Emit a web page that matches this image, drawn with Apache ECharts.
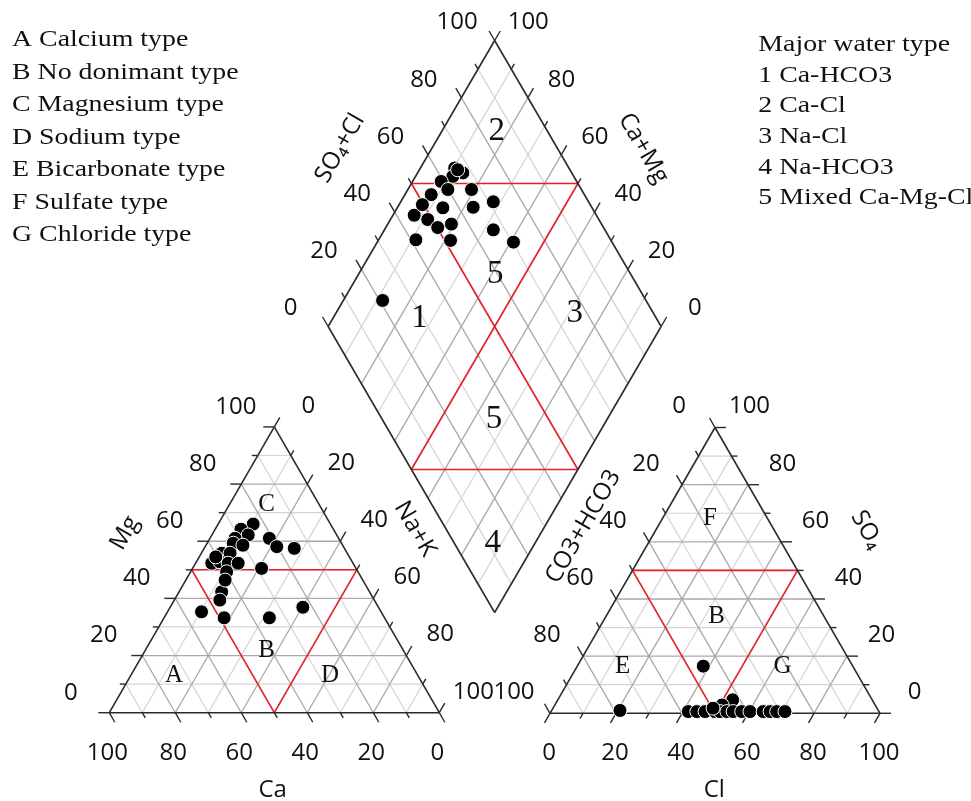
<!DOCTYPE html>
<html><head><meta charset="utf-8">
<script src="https://cdn.jsdelivr.net/npm/echarts@6/dist/echarts.min.js"></script>
<style>html,body{margin:0;padding:0;background:#fff}#c{width:971px;height:801px}</style>
</head><body><div id="c"></div>
<script>
// ---------------- DATA ----------------
// Cation triangle (percent of meq)
const cationCa  = [23.4,28.0,26.8,21.0,20.2,15.2,31.4,32.8,38.0,35.5,42.8,40.1,37.8,34.8,39.8,28.6,44.8,46.8,54.4,48.6,34.9,22.9,30.2,40.5,41.7];
const cationMg  = [66.0,64.2,62.2,61.0,58.1,57.5,61.0,59.3,55.8,55.8,52.3,52.8,52.3,52.3,49.3,50.5,42.3,39.4,35.3,33.2,33.2,36.9,58.6,54.5,46.4];
const cationNaK = [10.6,7.8,11.0,18.0,21.7,27.3,7.6,7.9,6.2,8.7,4.9,7.1,9.9,12.9,10.9,20.9,12.9,13.8,10.3,18.2,31.9,40.2,11.2,5.0,11.9];
// Anion triangle
const anionHCO3 = [78.3,45.3,42.3,46.4,57.8,55.2,52.7,49.7,48.2,46.1,44.2,41.6,39.1,35.1,33.0,31.0,28.5,49.7];
const anionSO4  = [1.0,16.5,4.7,2.9,0.6,0.6,0.6,0.6,0.6,0.6,0.6,0.6,0.6,0.6,0.6,0.6,0.6,1.8];
const anionCl   = [20.7,38.2,53.0,50.7,41.6,44.2,46.7,49.7,51.2,53.3,55.2,57.8,60.3,64.3,66.4,68.4,70.9,48.5];
// Diamond (SO4+Cl, Ca+Mg)
const diamondSO4Cl = [65.7,67.3,63.7,59.3,67.0,59.9,54.0,71.4,64.4,55.2,45.3,48.6,54.9,50.2,66.5,41.5,51.8,70.4,20.9,49.6,66.3];
const diamondCaMg  = [89.7,86.4,88.8,91.4,80.9,88.0,92.1,72.2,77.3,86.3,93.6,88.8,80.9,84.4,67.3,88.8,78.3,59.1,88.2,93.0,88.5];
// Ticks
const tickValues = [0,20,40,60,80,100];
const gridValues = [10,20,30,40,50,60,70,80,90];
const tickMarkValues = [0,10,20,30,40,50,60,70,80,90,100];
// Texts
const hydroLegend = ['A Calcium type','B No donimant type','C Magnesium type','D Sodium type','E Bicarbonate type','F Sulfate type','G Chloride type'];
const waterTypeLegend = ['Major water type','1 Ca-HCO3','2 Ca-Cl','3 Na-Cl','4 Na-HCO3','5 Mixed Ca-Mg-Cl'];
const cationRegionNames = ['A','B','C','D'];
const cationRegionPos = [[73.8,13.2,13.0],[41.4,21.9,36.7],[15.95,72.7,11.35],[26.5,13.2,60.3]];
const anionRegionNames = ['E','B','F','G'];
const anionRegionPos = [[69.85,16.3,13.85],[32.6,33.8,33.6],[17.4,68.2,14.4],[21.35,16.3,62.35]];
const diamondRegionNames = ['2','5','1','3','5','4'];
const diamondRegionPos = [[84.7,83.5],[59.2,58.9],[28.9,74.1],[76.4,28.3],[33.65,34.05],[11.5,12.7]];

// ---------------- LAYOUT ----------------
const W = 971, H = 801;
const SIDE = 330, HT = SIDE * Math.sqrt(3) / 2;
const CAT = {x0: 109.3, y0: 712.7};
const AN  = {x0: 550,   y0: 713.3};
const DIA = {bx: 494.65, by: 612.5, hw: 166.5, hh: 286};
const DIA_EDGE = Math.sqrt(DIA.hw * DIA.hw + DIA.hh * DIA.hh);

function cat(ca, mg, na) { return [CAT.x0 + SIDE * (na + mg / 2) / 100, CAT.y0 - HT * mg / 100]; }
function an(hco3, so4, cl) { return [AN.x0 + SIDE * (cl + so4 / 2) / 100, AN.y0 - HT * so4 / 100]; }
function dia(a, c) { return [DIA.bx + DIA.hw * (a - c) / 100, DIA.by - DIA.hh * (a + c) / 100]; }
function norm3(f, a, b, c) { const s = a + b + c; return f(a * 100 / s, b * 100 / s, c * 100 / s); }
function off(p, dx, dy) { return [p[0] + dx, p[1] + dy]; }

const SANS = '"Open Sans", "DejaVu Sans", sans-serif';
const SERIF = '"Liberation Serif", "Times New Roman", serif';

// ---------------- SEGMENTS ----------------
const gridLight = [], gridDark = [], redSegs = [], edgeSegs = [], tickSegs = [];
gridValues.forEach(v => {
  const t = (v % 20 === 0) ? gridDark : gridLight;
  t.push([cat(100 - v, v, 0), cat(0, v, 100 - v)]);
  t.push([cat(v, 0, 100 - v), cat(v, 100 - v, 0)]);
  t.push([cat(100 - v, 0, v), cat(0, 100 - v, v)]);
  t.push([an(100 - v, v, 0), an(0, v, 100 - v)]);
  t.push([an(v, 0, 100 - v), an(v, 100 - v, 0)]);
  t.push([an(100 - v, 0, v), an(0, 100 - v, v)]);
  t.push([dia(v, 0), dia(v, 100)]);
  t.push([dia(0, v), dia(100, v)]);
});
edgeSegs.push([cat(100,0,0), cat(0,0,100)], [cat(0,0,100), cat(0,100,0)], [cat(0,100,0), cat(100,0,0)]);
edgeSegs.push([an(100,0,0), an(0,0,100)], [an(0,0,100), an(0,100,0)], [an(0,100,0), an(100,0,0)]);
edgeSegs.push([dia(0,0), dia(100,0)], [dia(100,0), dia(100,100)], [dia(100,100), dia(0,100)], [dia(0,100), dia(0,0)]);
redSegs.push([cat(50,50,0), cat(0,50,50)], [cat(50,50,0), cat(50,0,50)], [cat(0,50,50), cat(50,0,50)]);
redSegs.push([an(50,50,0), an(0,50,50)], [an(50,50,0), an(50,0,50)], [an(0,50,50), an(50,0,50)]);
redSegs.push([dia(50,0), dia(50,100)], [dia(0,50), dia(100,50)], [dia(50,100), dia(100,50)], [dia(50,0), dia(0,50)]);
tickMarkValues.forEach(v => {
  const len = (v % 20 === 0) ? 11 : 6;
  const d = len / SIDE * 100, dd = len / DIA_EDGE * 100;
  tickSegs.push([cat(100 - v, v, 0), cat(100 - v + d, v, -d)]);
  tickSegs.push([cat(v, 0, 100 - v), cat(v, -d, 100 - v + d)]);
  tickSegs.push([cat(0, 100 - v, v), cat(-d, 100 - v + d, v)]);
  tickSegs.push([an(0, v, 100 - v), an(-d, v, 100 - v + d)]);
  tickSegs.push([an(v, 100 - v, 0), an(v, 100 - v + d, -d)]);
  tickSegs.push([an(100 - v, 0, v), an(100 - v + d, -d, v)]);
  tickSegs.push([dia(v, 100), dia(v, 100 + dd)]);
  tickSegs.push([dia(100, v), dia(100 + dd, v)]);
});

// ---------------- TEXTS ----------------
const texts = [];
function addText(p, text, font, opts) { texts.push(Object.assign({p: p, text: text, font: font}, opts || {})); }
const TICKFONT = '24px ' + SANS;
tickValues.forEach(v => {
  addText(off(cat(100 - v, v, 0), -38.5, -20), String(v), TICKFONT);
  addText(off(cat(0, 100 - v, v), 34, -21), String(v), TICKFONT);
  addText(off(cat(v, 0, 100 - v), -2, 40.5), String(v), TICKFONT);
  addText(off(an(v, 100 - v, 0), -36, -21), String(v), TICKFONT);
  addText(off(an(0, v, 100 - v), 34.5, -21), String(v), TICKFONT);
  addText(off(an(100 - v, 0, v), -1, 40), String(v), TICKFONT);
  addText(off(dia(v, 100), -37.5, -18), String(v), TICKFONT);
  addText(off(dia(100, v), 33.6, -18), String(v), TICKFONT);
});
const TITLEFONT = '24px ' + SANS;
addText([125, 533], 'Mg', TITLEFONT, {rot: 60});
addText([415, 529], 'Na+K', TITLEFONT, {rot: -60});
addText([272.7, 790], 'Ca', TITLEFONT);
addText([583.4, 526.7], 'CO3+HCO3', TITLEFONT, {rot: 60});
addText([866.7, 530], 'SO\u2084', TITLEFONT, {rot: -60});
addText([714.3, 790], 'Cl', TITLEFONT);
addText([340, 148.3], 'SO\u2084+Cl', TITLEFONT, {rot: 60});
addText([643.3, 148.3], 'Ca+Mg', TITLEFONT, {rot: -60});
cationRegionNames.forEach((t, i) => addText(cat.apply(null, cationRegionPos[i]), t, '25px ' + SERIF));
anionRegionNames.forEach((t, i) => addText(an.apply(null, anionRegionPos[i]), t, '25px ' + SERIF));
diamondRegionNames.forEach((t, i) => addText(dia.apply(null, diamondRegionPos[i]), t, '33px ' + SERIF));
hydroLegend.forEach((t, i) => addText([12, 40 + i * 32.5], t, '24px ' + SERIF, {align: 'left', sx: 1.16}));
waterTypeLegend.forEach((t, i) => addText([758.3, 45 + i * 30.6], t, '24px ' + SERIF, {align: 'left', sx: 1.16}));

// ---------------- SERIES ----------------
function segSeries(segs, color, width, z) {
  return {
    type: 'custom', coordinateSystem: 'cartesian2d', silent: true, z: z, animation: false,
    data: segs.map(s => [s[0][0], s[0][1], s[1][0], s[1][1]]),
    renderItem: (params, api) => {
      const p1 = api.coord([api.value(0), api.value(1)]);
      const p2 = api.coord([api.value(2), api.value(3)]);
      return {type: 'line', shape: {x1: p1[0], y1: p1[1], x2: p2[0], y2: p2[1]},
        style: {stroke: color, lineWidth: width, lineCap: 'butt'}};
    }
  };
}
function textSeries(items, z) {
  return {
    type: 'custom', coordinateSystem: 'cartesian2d', silent: true, z: z, animation: false,
    data: items.map(it => [it.p[0], it.p[1]]),
    renderItem: (params, api) => {
      const it = items[params.dataIndex];
      const p = api.coord([api.value(0), api.value(1)]);
      return {type: 'text', x: p[0], y: p[1], rotation: (it.rot || 0) * Math.PI / 180,
        scaleX: it.sx || 1,
        style: {text: it.text, font: it.font, fill: it.color || '#111',
          align: it.align || 'center', verticalAlign: 'middle'}};
    }
  };
}
const pointStyle = {color: '#000', borderColor: '#fff', borderWidth: 1, opacity: 1};
const series = [
  segSeries(gridLight, '#d4d4d4', 1.2, 1),
  segSeries(gridDark, '#a9a9a9', 1.3, 2),
  segSeries(redSegs, '#e5202a', 1.6, 3),
  segSeries(edgeSegs, '#2b2b2b', 1.6, 4),
  segSeries(tickSegs, '#2b2b2b', 1.4, 4),
  {type: 'scatter', z: 5, silent: true, symbolSize: 14, itemStyle: pointStyle, animation: false,
    data: cationCa.map((ca, i) => norm3(cat, ca, cationMg[i], cationNaK[i]))},
  {type: 'scatter', z: 5, silent: true, symbolSize: 14, itemStyle: pointStyle, animation: false,
    data: anionHCO3.map((h, i) => norm3(an, h, anionSO4[i], anionCl[i]))},
  {type: 'scatter', z: 5, silent: true, symbolSize: 14, itemStyle: pointStyle, animation: false,
    data: diamondSO4Cl.map((a, i) => dia(a, diamondCaMg[i]))},
  textSeries(texts, 6)
];

const chart = echarts.init(document.getElementById('c'), null, {renderer: 'canvas'});
chart.setOption({
  backgroundColor: '#fff',
  animation: false,
  grid: {left: 0, right: 0, top: 0, bottom: 0},
  xAxis: {type: 'value', min: 0, max: W, show: false},
  yAxis: {type: 'value', min: 0, max: H, inverse: true, show: false},
  series: series
});
</script>
</body></html>
